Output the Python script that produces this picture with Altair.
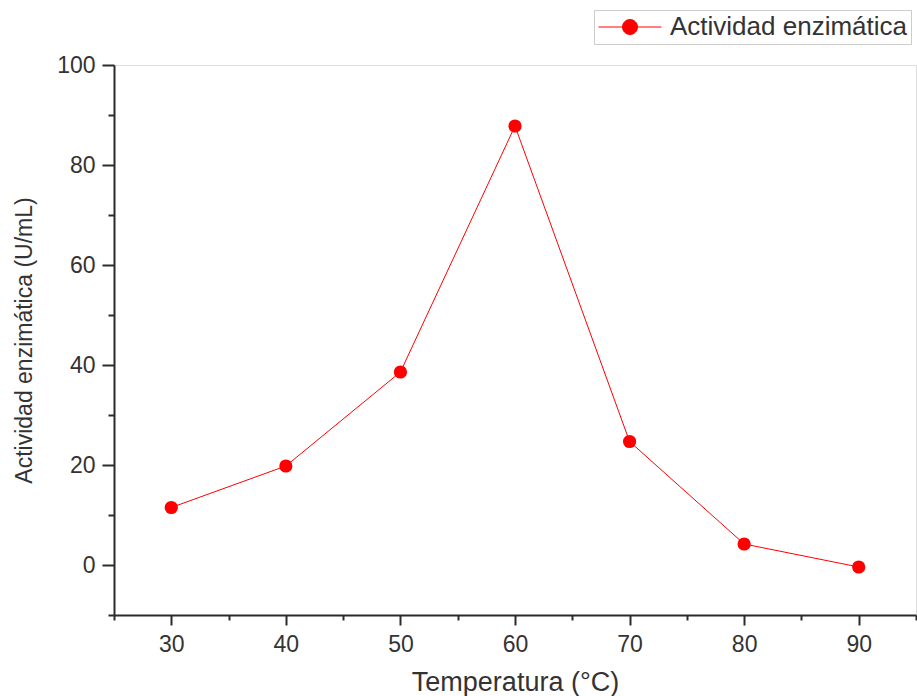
import altair as alt
import pandas as pd

temperatura = [30, 40, 50, 60, 70, 80, 90]
actividad = [11.5, 19.8, 38.6, 87.8, 24.7, 4.2, -0.4]
serie = "Actividad enzimática"

x_major = [30, 40, 50, 60, 70, 80, 90]
x_minor = [25, 35, 45, 55, 65, 75, 85, 95]
y_major = [0, 20, 40, 60, 80, 100]
y_minor = [-10, 10, 30, 50, 70, 90]

df = pd.DataFrame({"t": temperatura, "a": actividad, "s": [serie] * len(temperatura)})

FONT = "Liberation Sans"
AX = "#2b2b2b"

xscale = alt.Scale(domain=[25, 95], nice=False, zero=False)
yscale = alt.Scale(domain=[-10, 100], nice=False, zero=False)

x_axis = alt.Axis(values=x_major, title="Temperatura (°C)", format="d",
                  tickSize=10, tickWidth=2, tickColor=AX, domainColor=AX, domainWidth=2,
                  labelFontSize=23, labelFont=FONT, labelColor="#333", labelPadding=8,
                  titleFontSize=27, titleFont=FONT, titleColor="#333", titleFontWeight="normal",
                  titlePadding=13, grid=False, orient="bottom")
y_axis = alt.Axis(values=y_major, title="Actividad enzimática (U/mL)", format="d",
                  tickSize=12, tickWidth=2, tickColor=AX, domainColor=AX, domainWidth=2,
                  labelFontSize=23, labelFont=FONT, labelColor="#333", labelPadding=7,
                  titleFontSize=23, titleFont=FONT, titleColor="#333", titleFontWeight="normal",
                  titlePadding=20, grid=False, orient="left")

x_minor_axis = alt.Axis(values=x_minor, title=None, labels=False, domain=False,
                        tickSize=5, tickWidth=2, tickColor=AX, grid=False, orient="bottom")
y_minor_axis = alt.Axis(values=y_minor, title=None, labels=False, domain=False,
                        tickSize=6, tickWidth=2, tickColor=AX, grid=False, orient="left")

L = 2.52
r = 0.6
sym = f"M-{L},0L{L},0M-{r},0A{r},{r} 0 1,0 {r},0A{r},{r} 0 1,0 -{r},0Z"

line = alt.Chart(df).mark_line(color="red", strokeWidth=1).encode(
    x=alt.X("t:Q", scale=xscale, axis=x_axis),
    y=alt.Y("a:Q", scale=yscale, axis=y_axis),
)

points = alt.Chart(df).mark_point(filled=True, size=175, opacity=1).encode(
    x=alt.X("t:Q", scale=xscale, axis=x_minor_axis),
    y=alt.Y("a:Q", scale=yscale, axis=y_minor_axis),
    color=alt.Color("s:N", scale=alt.Scale(range=["red"]),
                    legend=alt.Legend(orient="none", legendX=480, legendY=-55, title=None,
                                      symbolType=sym, symbolSize=625, symbolOffset=19,
                                      symbolFillColor="red", symbolStrokeColor="red",
                                      symbolStrokeWidth=1, symbolOpacity=1,
                                      labelFontSize=26, labelFont=FONT, labelColor="#333",
                                      labelOffset=27, labelLimit=400,
                                      strokeColor="#cccccc", fillColor="white", padding=4)),
)

chart = alt.layer(line, points).resolve_axis(x="independent", y="independent").properties(
    width=802, height=550,
    autosize=alt.AutoSizeParams(type="none"),
    padding={"left": 114, "top": 65, "right": 1, "bottom": 81},
).configure_view(stroke=None).configure(background="white")

chart.save("out.html", embed_options={"renderer": "svg", "actions": False})
